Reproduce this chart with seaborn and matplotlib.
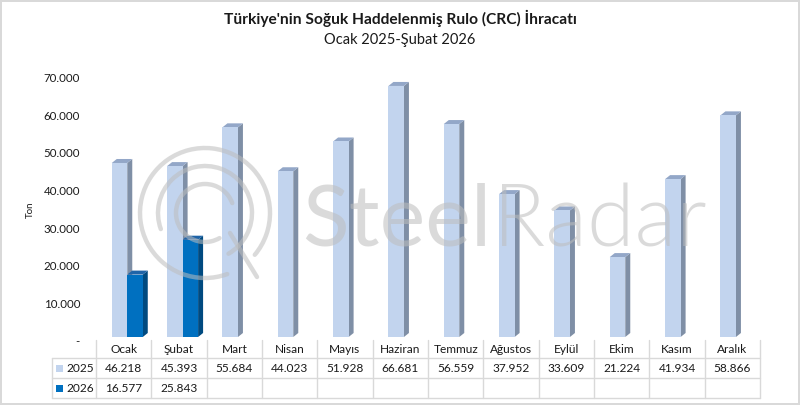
import matplotlib
matplotlib.use("Agg")
import matplotlib.pyplot as plt
import seaborn as sns
import pandas as pd
import numpy as np
from matplotlib.patches import Polygon, Rectangle, Arc
from matplotlib.transforms import ScaledTranslation
from matplotlib.lines import Line2D

# ---------------- data ----------------
months = ["Ocak", "Şubat", "Mart", "Nisan", "Mayıs", "Haziran", "Temmuz",
          "Ağustos", "Eylül", "Ekim", "Kasım", "Aralık"]
values_2025 = [46218, 45393, 55684, 44023, 51928, 66681, 56559,
               37952, 33609, 21224, 41934, 58866]
values_2026 = [16577, 25843]
series = ["2025", "2026"]
y_ticks = [0, 10000, 20000, 30000, 40000, 50000, 60000, 70000]
title = "Türkiye'nin Soğuk Haddelenmiş Rulo (CRC) İhracatı"
subtitle = "Ocak 2025-Şubat 2026"
y_label = "Ton"

front_colors = {"2025": "#C2D4EE", "2026": "#0070C0"}
side_colors = {"2025": "#7F8FA6", "2026": "#004A80"}
top_colors = {"2025": "#93A7C8", "2026": "#1F64A8"}

rows = []
for m, v in zip(months, values_2025):
    rows.append({"Ay": m, "Yıl": "2025", "Ton": v})
for m, v in zip(months, values_2026):
    rows.append({"Ay": m, "Yıl": "2026", "Ton": v})
df = pd.DataFrame(rows)


def fmt(v):
    return f"{v:,.0f}".replace(",", ".")


# ---------------- figure ----------------
sns.set_theme(style="white")
plt.rcParams["font.family"] = ["Lato", "DejaVu Sans"]

W, H = 800, 405
DPI = 100
fig = plt.figure(figsize=(W / DPI, H / DPI), dpi=DPI)
fig.patch.set_facecolor("white")
fig.patch.set_edgecolor("#D9D9D9")
fig.patch.set_linewidth(1.5)

# axes geometry in pixels
ax_l, ax_r = 96, 760
ax_top, ax_bot = 60, 340
ax = fig.add_axes([ax_l / W, 1 - ax_bot / H, (ax_r - ax_l) / W, (ax_bot - ax_top) / H])
ax.set_facecolor("none")

px_per_unit = 37.65 / 10000.0      # pixels per ton
zero_px = 337                      # pixel row of bar floor
ymin = -(ax_bot - zero_px) / px_per_unit
ymax = ymin + (ax_bot - ax_top) / px_per_unit

sns.barplot(data=df, x="Ay", y="Ton", hue="Yıl", order=months, hue_order=series,
            palette=front_colors, width=0.56, dodge=True, saturation=1,
            edgecolor="none", linewidth=0, legend=False, ax=ax, zorder=2)

shift = 0.065
ax.set_xlim(-0.5 - shift, len(months) - 0.5 - shift)
ax.set_ylim(ymin, ymax)

# 3D depth faces
cat_px = (ax_r - ax_l) / len(months)
dx = 5.0 / cat_px
dy = 4.0 / px_per_unit
for container, s in zip(ax.containers, series):
    for bar in container:
        h = bar.get_height()
        if not np.isfinite(h) or h == 0:
            continue
        x0 = bar.get_x()
        x1 = x0 + bar.get_width()
        side = Polygon([(x1, 0), (x1 + dx, dy), (x1 + dx, h + dy), (x1, h)],
                       closed=True, facecolor=side_colors[s], edgecolor="none", zorder=1.9)
        top = Polygon([(x0, h), (x0 + dx, h + dy), (x1 + dx, h + dy), (x1, h)],
                      closed=True, facecolor=top_colors[s], edgecolor="none", zorder=1.9)
        ax.add_patch(side)
        ax.add_patch(top)

for sp in ax.spines.values():
    sp.set_visible(False)
ax.grid(False)
ax.set_xticks([])
ax.set_xlabel("")
ax.set_yticks(y_ticks)
ax.set_yticklabels(["-" if t == 0 else fmt(t) for t in y_ticks])
ax.tick_params(axis="y", length=0, pad=11.5, labelsize=8.3, labelcolor="#1a1a1a")
offset = ScaledTranslation(0, -4 / DPI, fig.dpi_scale_trans)
for lab in ax.get_yticklabels():
    lab.set_transform(lab.get_transform() + offset)
ax.set_ylabel("")
fig.text(30 / W, 1 - 210 / H, y_label, rotation=90, ha="center", va="center",
         fontsize=7, color="#1a1a1a")

# titles
fig.text(0.5, 1 - 18 / H, title, ha="center", va="center", fontsize=11.2,
         fontweight="bold", color="#1a1a1a")
fig.text(0.5, 1 - 40 / H, subtitle, ha="center", va="center", fontsize=10.5,
         color="#1a1a1a")

# ---------------- data table ----------------
grid_c = "#D9D9D9"
def fx(px):
    return px / W
def fy(py):
    return 1 - py / H

row_hdr, row_a, row_b, row_end = 340, 358, 378, 398
leg_l = 52
for i in range(len(months) + 1):
    xp = ax_l + i * cat_px
    fig.add_artist(Line2D([fx(xp), fx(xp)], [fy(row_hdr), fy(row_end)],
                          color=grid_c, lw=1))
fig.add_artist(Line2D([fx(leg_l), fx(leg_l)], [fy(row_a), fy(row_end)], color=grid_c, lw=1))
for yp in (row_a, row_b, row_end):
    fig.add_artist(Line2D([fx(leg_l), fx(ax_r)], [fy(yp), fy(yp)], color=grid_c, lw=1))

txt_kw = dict(ha="center", va="center", fontsize=8.6, color="#1a1a1a")
for i, m in enumerate(months):
    cx = ax_l + (i + 0.5) * cat_px
    fig.text(fx(cx), fy((row_hdr + row_a) / 2 + 0.5), m, **txt_kw)
    fig.text(fx(cx), fy((row_a + row_b) / 2), fmt(values_2025[i]), **txt_kw)
    if i < len(values_2026):
        fig.text(fx(cx), fy((row_b + row_end) / 2), fmt(values_2026[i]), **txt_kw)

for s, (r0, r1) in zip(series, [(row_a, row_b), (row_b, row_end)]):
    cy = (r0 + r1) / 2
    fig.add_artist(Rectangle((fx(56), fy(cy + 3.5)), 7 / W, 7 / H,
                             facecolor=front_colors[s], edgecolor="none",
                             transform=fig.transFigure))
    fig.text(fx(66), fy(cy), s, ha="left", va="center", fontsize=8.6, color="#1a1a1a")

# ---------------- watermark ----------------
wm_c = "#BDBDBD"
wm_a = 0.55
cxi, cyi = 205 / DPI, (H - 213) / DPI
for r, t1, t2 in [(65, -40, 290), (47, -60, 200), (29, 20, 300)]:
    fig.add_artist(Arc((cxi, cyi), 2 * r / DPI, 2 * r / DPI, theta1=t1, theta2=t2,
                       transform=fig.dpi_scale_trans, color=wm_c, lw=3.2, alpha=wm_a,
                       zorder=5, capstyle="round"))
fig.add_artist(Line2D([fx(230), fx(257)], [fy(233), fy(277)], color=wm_c, lw=3.2,
                      alpha=wm_a, zorder=5, solid_capstyle="round"))
t_steel = fig.text(fx(302), fy(222), "Steel", ha="left", va="center", fontsize=62,
                   color=wm_c, alpha=wm_a, zorder=5)
fig.canvas.draw()
ext = t_steel.get_window_extent()
fig.text(ext.x1 / W + 0.002, fy(222), "Radar", ha="left", va="center", fontsize=62,
         fontweight=300, color=wm_c, alpha=wm_a, zorder=5)

fig.savefig("out.png", dpi=DPI, facecolor=fig.get_facecolor(),
            edgecolor=fig.get_edgecolor())
